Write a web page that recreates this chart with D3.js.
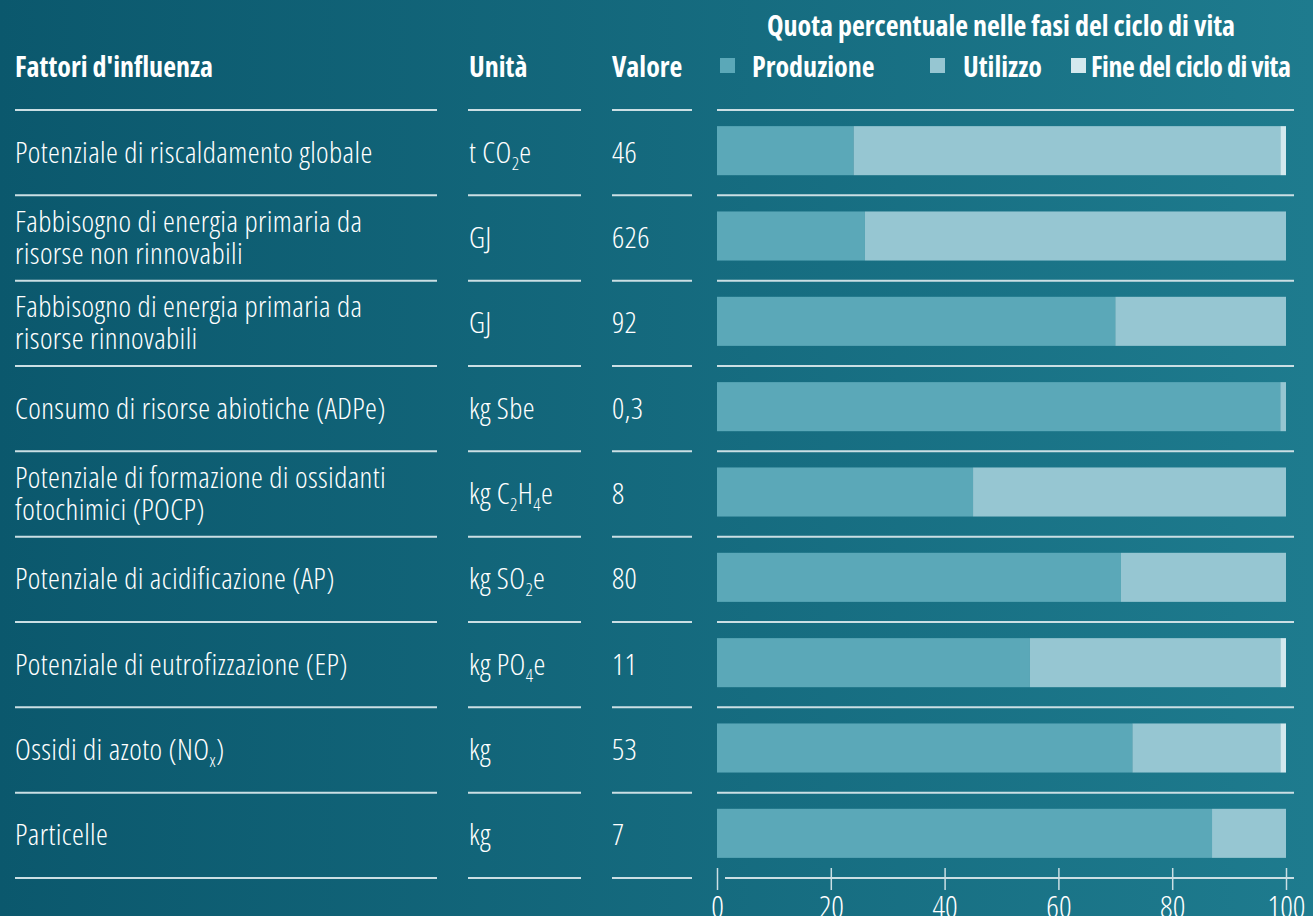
<!DOCTYPE html>
<html>
<head>
<meta charset="utf-8">
<script src="https://cdn.jsdelivr.net/npm/d3@7"></script>
<style>
  body { margin: 0; background: #0b5a6e; }
  svg { display: block; }
  text { font-family: "Open Sans", sans-serif; font-stretch: 75%; font-weight: 300; fill: #ffffff; }
  .bold { font-weight: 700; }
  .body { letter-spacing: 0.4px; }
</style>
</head>
<body>
<div id="chart"></div>
<script>
// data, "~" toggles subscript
var factors = [
  "Potenziale di riscaldamento globale",
  "Fabbisogno di energia primaria da|risorse non rinnovabili",
  "Fabbisogno di energia primaria da|risorse rinnovabili",
  "Consumo di risorse abiotiche (ADPe)",
  "Potenziale di formazione di ossidanti|fotochimici (POCP)",
  "Potenziale di acidificazione (AP)",
  "Potenziale di eutrofizzazione (EP)",
  "Ossidi di azoto (NO~x~)",
  "Particelle"
];
var units = ["t CO~2~e", "GJ", "GJ", "kg Sbe", "kg C~2~H~4~e", "kg SO~2~e", "kg PO~4~e", "kg", "kg"];
var values = ["46", "626", "92", "0,3", "8", "80", "11", "53", "7"];

var phases = ["Produzione", "Utilizzo", "Fine del ciclo di vita"];
var produzione = [24, 26, 70, 99, 45, 71, 55, 73, 87];
var utilizzo   = [75, 74, 30, 1, 55, 29, 44, 26, 13];
var fineVita   = [1, 0, 0, 0, 0, 0, 1, 1, 0];
var xTicks = [0, 20, 40, 60, 80, 100];

var colors = ["#5ba8b8", "#96c6d2", "#d4e9ee"];

var width = 1313, height = 916;
var fontSize = 30;

var svg = d3.select("#chart").append("svg")
    .attr("width", width)
    .attr("height", height);

var grad = svg.append("defs").append("linearGradient")
    .attr("id", "bg")
    .attr("x1", "0%").attr("y1", "0%").attr("x2", "100%").attr("y2", "0%");
grad.append("stop").attr("offset", "0%").attr("stop-color", "#0b586d");
grad.append("stop").attr("offset", "100%").attr("stop-color", "#1e7b8e");

svg.append("rect").attr("width", width).attr("height", height).attr("fill", "url(#bg)");

var rows = factors.map(function(f, i) {
  return { name: f, unit: units[i], value: values[i],
           parts: [produzione[i], utilizzo[i], fineVita[i]] };
});

var y = d3.scaleBand()
    .domain(d3.range(rows.length))
    .range([110, 878])
    .paddingInner(0.425)
    .paddingOuter(0.2125);

var x = d3.scaleLinear()
    .domain([0, 100])
    .range([717, 1286]);

// write text with subscripts
function richText(sel, str, size) {
  var parts = str.split("~");
  parts.forEach(function(p, k) {
    if (!p) return;
    var t = sel.append("tspan").text(p);
    if (k % 2 == 1) {
      t.attr("font-size", size * 0.6).attr("dy", 7);
    } else if (k > 0) {
      t.attr("dy", -7);
    }
  });
}

// columns: [x start, x end]
var cols = [[15, 437], [468, 581], [612, 692], [717, 1294]];

// header
var hSize = "28px";
svg.append("text").attr("class", "bold").attr("x", 15).attr("y", 77)
    .style("font-size", hSize).text("Fattori d'influenza");
svg.append("text").attr("class", "bold").attr("x", 469).attr("y", 77)
    .style("font-size", hSize).text("Unità");
svg.append("text").attr("class", "bold").attr("x", 612).attr("y", 77)
    .style("font-size", hSize).text("Valore");
svg.append("text").attr("class", "bold").attr("x", 1001).attr("y", 36)
    .attr("text-anchor", "middle")
    .style("font-size", hSize).text("Quota percentuale nelle fasi del ciclo di vita");

var legendX = [720, 930, 1071];
var legend = svg.selectAll(".legend")
    .data(phases)
    .enter().append("g")
    .attr("class", "legend")
    .attr("transform", function(d, i) { return "translate(" + legendX[i] + ",58)"; });
legend.append("rect")
    .attr("width", 15).attr("height", 15)
    .attr("fill", function(d, i) { return colors[i]; });
legend.append("text")
    .attr("class", "bold")
    .attr("x", function(d, i) { return [32, 33, 20][i]; })
    .attr("y", 19)
    .style("font-size", hSize)
    .style("letter-spacing", function(d, i) { return i == 2 ? "-0.5px" : null; })
    .text(function(d) { return d; });

// rules
var ruleYs = d3.range(rows.length + 1).map(function(i) { return 110 + i * y.step(); });

ruleYs.forEach(function(ry, i) {
  cols.forEach(function(c, j) {
    if (j == 3 && i == rows.length) return;
    svg.append("line")
      .attr("x1", c[0]).attr("x2", c[1])
      .attr("y1", ry).attr("y2", ry)
      .attr("stroke", "#cbdfe4")
      .attr("stroke-width", 2);
  });
});

// text columns
var rowG = svg.selectAll(".row")
    .data(rows)
    .enter().append("g")
    .attr("class", "row");

rowG.each(function(d, i) {
  var g = d3.select(this);
  var cy = 110 + (i + 0.5) * y.step();
  var lines = d.name.split("|");
  lines.forEach(function(l, k) {
    var base = lines.length == 1 ? cy + 10 : cy - 6 + k * 32;
    var t = g.append("text").attr("class", "body").attr("x", 15).attr("y", base).style("font-size", fontSize + "px");
    richText(t, l, fontSize);
  });
  var tu = g.append("text").attr("class", "body").attr("x", 469).attr("y", cy + 10).style("font-size", fontSize + "px");
  richText(tu, d.unit, fontSize);
  g.append("text").attr("class", "body").attr("x", 612).attr("y", cy + 10).style("font-size", fontSize + "px").text(d.value);
});

// stacked bars
var stackData = rows.map(function(d, i) {
  return { i: i, p0: d.parts[0], p1: d.parts[1], p2: d.parts[2] };
});
var stack = d3.stack().keys(["p0", "p1", "p2"]);
var series = stack(stackData);

svg.selectAll(".serie")
    .data(series)
    .enter().append("g")
    .attr("class", "serie")
    .attr("fill", function(d, i) { return colors[i]; })
  .selectAll("rect")
    .data(function(d) { return d; })
    .enter().append("rect")
    .attr("x", function(d) { return x(d[0]); })
    .attr("y", function(d) { return y(d.data.i) - 2; })
    .attr("width", function(d) { return x(d[1]) - x(d[0]); })
    .attr("height", y.bandwidth());

// axis
var xAxis = d3.axisBottom(x)
    .tickValues(xTicks)
    .tickSize(0)
    .tickPadding(18);

var axisG = svg.append("g")
    .attr("transform", "translate(0,878)")
    .call(customXAxis);

function customXAxis(g) {
  g.call(xAxis);
  g.select(".domain").remove();
  g.selectAll(".tick line")
    .attr("y1", -10).attr("y2", 12)
    .attr("stroke", "#cbdfe4").attr("stroke-width", 1.5);
  g.selectAll(".tick text")
    .style("font-size", "31px")
    .attr("font-family", null)
    .attr("fill", "#ffffff");
}
axisG.append("line")
    .attr("x1", 725).attr("x2", 1294)
    .attr("y1", 0).attr("y2", 0)
    .attr("stroke", "#cbdfe4").attr("stroke-width", 2);
</script>
</body>
</html>
